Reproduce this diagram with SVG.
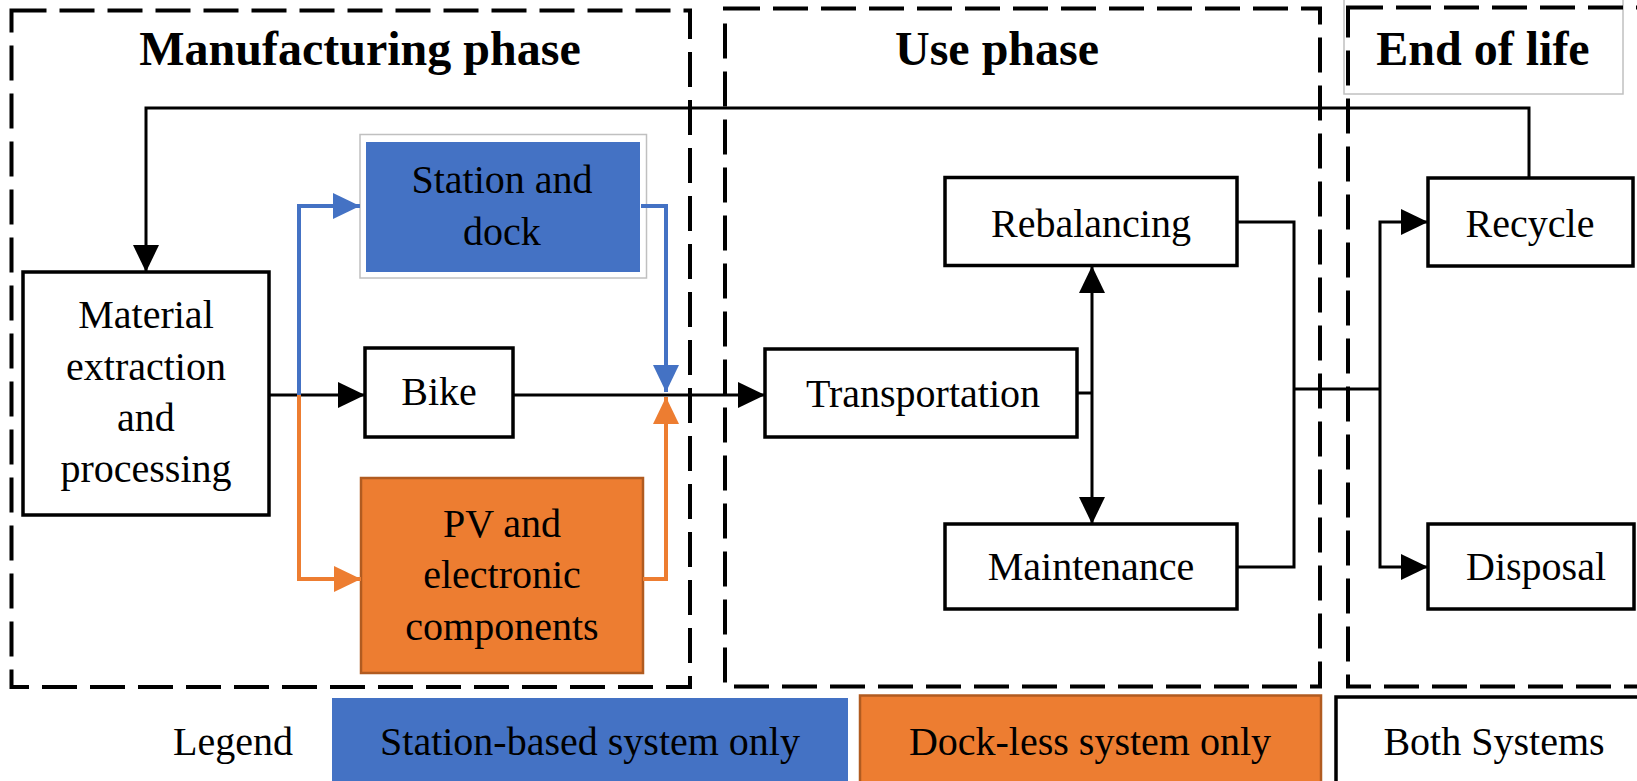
<svg xmlns="http://www.w3.org/2000/svg" width="1637" height="781" viewBox="0 0 1637 781">
  <style>
    text { font-family: "Liberation Serif", "Times New Roman", serif; font-size: 40px; fill: #000; text-anchor: middle; }
    .title { font-weight: bold; font-size: 48px; }
    .phase { fill: none; stroke: #000; stroke-width: 4; stroke-dasharray: 35 13; }
    .box { fill: #fff; stroke: #000; stroke-width: 3.5; }
    .wire { fill: none; stroke: #000; stroke-width: 3; }
    .blue { fill: none; stroke: #4472C4; stroke-width: 4; }
    .orange { fill: none; stroke: #ED7D31; stroke-width: 4; }
  </style>
  <defs>
    <marker id="arrow" markerUnits="userSpaceOnUse" markerWidth="27" markerHeight="26" refX="27" refY="13" orient="auto-start-reverse">
      <path d="M0,0 L27,13 L0,26 z" fill="#000"/>
    </marker>
    <marker id="arrow-blue" markerUnits="userSpaceOnUse" markerWidth="27" markerHeight="26" refX="27" refY="13" orient="auto">
      <path d="M0,0 L27,13 L0,26 z" fill="#4472C4"/>
    </marker>
    <marker id="arrow-orange" markerUnits="userSpaceOnUse" markerWidth="27" markerHeight="26" refX="27" refY="13" orient="auto">
      <path d="M0,0 L27,13 L0,26 z" fill="#ED7D31"/>
    </marker>
  </defs>

  <rect width="1637" height="781" fill="#fff"/>

  <!-- life-cycle phases -->
  <g id="phases">
    <rect id="eol-header" x="1344" y="-2" width="279" height="96" fill="#fff" stroke="#c0c0c0" stroke-width="1.5"/>
    <rect id="manufacturing-phase" class="phase" x="11.5" y="10.5" width="678.5" height="676.5"/>
    <rect id="use-phase" class="phase" x="725" y="8.5" width="595" height="678"/>
    <rect id="end-of-life" class="phase" x="1348" y="7.5" width="320" height="679"/>
    <text class="title" x="360" y="65">Manufacturing phase</text>
    <text class="title" x="997" y="65">Use phase</text>
    <text class="title" x="1483" y="65">End of life</text>
  </g>

  <!-- process nodes -->
  <g id="material">
    <rect class="box" x="23" y="272" width="246" height="243"/>
    <text x="146" y="328">Material</text>
    <text x="146" y="380">extraction</text>
    <text x="146" y="431">and</text>
    <text x="146" y="482">processing</text>
  </g>
  <g id="station-dock">
    <rect x="360" y="134.5" width="286.5" height="143.5" fill="#fff" stroke="#c0c0c0" stroke-width="1.5"/>
    <rect x="366" y="142" width="274" height="130" fill="#4472C4"/>
    <text x="502" y="193">Station and</text>
    <text x="502" y="245">dock</text>
  </g>
  <g id="bike">
    <rect class="box" x="365" y="348" width="148" height="89"/>
    <text x="439" y="405">Bike</text>
  </g>
  <g id="pv-electronics">
    <rect x="361" y="478" width="282" height="195" fill="#ED7D31" stroke="#B15B20" stroke-width="2.5"/>
    <text x="502" y="537">PV and</text>
    <text x="502" y="588">electronic</text>
    <text x="502" y="640">components</text>
  </g>
  <g id="transportation">
    <rect class="box" x="765" y="349" width="312" height="88"/>
    <text x="923" y="407">Transportation</text>
  </g>
  <g id="rebalancing">
    <rect class="box" x="945" y="177.5" width="292" height="88"/>
    <text x="1091" y="237">Rebalancing</text>
  </g>
  <g id="maintenance">
    <rect class="box" x="945" y="524" width="292" height="85"/>
    <text x="1091" y="580">Maintenance</text>
  </g>
  <g id="recycle">
    <rect class="box" x="1428" y="178" width="205" height="88"/>
    <text x="1530" y="237">Recycle</text>
  </g>
  <g id="disposal">
    <rect class="box" x="1428" y="524" width="206" height="85"/>
    <text x="1536" y="580">Disposal</text>
  </g>

  <!-- connectors -->
  <g id="connectors">
    <path class="wire" d="M1529,178 V108 H146 V272" marker-end="url(#arrow)"/>
    <path class="wire" d="M269,395 H365" marker-end="url(#arrow)"/>
    <path class="wire" d="M513,395 H765" marker-end="url(#arrow)"/>
    <path class="blue" d="M299,395 V206 H360" marker-end="url(#arrow-blue)"/>
    <path class="blue" d="M641,206 H666 V392" marker-end="url(#arrow-blue)"/>
    <path class="orange" d="M299,395 V579 H361" marker-end="url(#arrow-orange)"/>
    <path class="orange" d="M643,579 H666 V397" marker-end="url(#arrow-orange)"/>
    <path class="wire" d="M1077,393 H1092"/>
    <path class="wire" d="M1092,266 V524" marker-start="url(#arrow)" marker-end="url(#arrow)"/>
    <path class="wire" d="M1237,222 H1294 V567 H1237"/>
    <path class="wire" d="M1294,389 H1380"/>
    <path class="wire" d="M1380,389 V222 H1428" marker-end="url(#arrow)"/>
    <path class="wire" d="M1380,389 V567 H1428" marker-end="url(#arrow)"/>
  </g>

  <!-- legend -->
  <g id="legend">
    <text x="233" y="755">Legend</text>
    <rect x="332" y="698" width="516" height="90" fill="#4472C4"/>
    <text x="590" y="755">Station-based system only</text>
    <rect x="860" y="695.5" width="461" height="92" fill="#ED7D31" stroke="#B15B20" stroke-width="2.5"/>
    <text x="1090" y="755">Dock-less system only</text>
    <rect class="box" x="1336" y="697" width="320" height="92"/>
    <text x="1494" y="755">Both Systems</text>
  </g>
</svg>
